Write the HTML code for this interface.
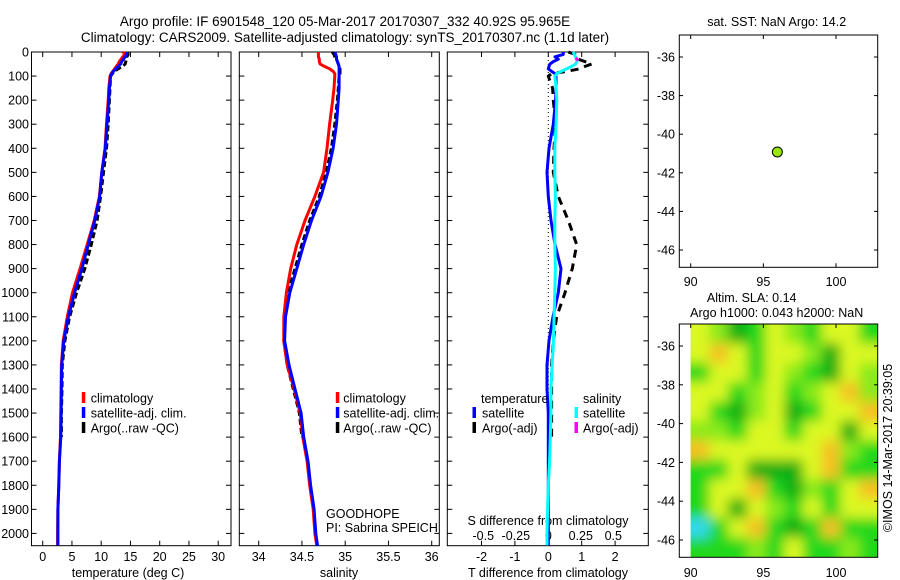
<!DOCTYPE html>
<html><head><meta charset="utf-8"><style>
html,body{margin:0;padding:0;background:#fff;}
svg{display:block;font-family:"Liberation Sans",sans-serif;}
text{font-size:12.5px;fill:#000;}
</style></head><body>
<svg id="chart" width="900" height="580" viewBox="0 0 900 580" xmlns="http://www.w3.org/2000/svg">
<defs>
<filter id="blur" x="-10%" y="-10%" width="120%" height="120%"><feGaussianBlur stdDeviation="6"/></filter>
<clipPath id="mapclip"><rect x="690.7" y="324" width="187" height="233.3"/></clipPath>
</defs>
<text x="345" y="26" text-anchor="middle" style="font-size:13.5px">Argo profile: IF 6901548_120 05-Mar-2017 20170307_332 40.92S 95.965E</text>
<text x="345" y="42" text-anchor="middle" style="font-size:13.5px">Climatology: CARS2009. Satellite-adjusted climatology: synTS_20170307.nc (1.1d later)</text>
<g id="g"></g>
</svg>
<script>
// ---- data ----
const depths      = [0,10,20,30,40,50,60,70,80,90,100,150,200,300,400,500,600,700,800,900,1000,1100,1200,1300,1400,1500,1600,1700,1800,1900,2000,2050];
const tempClim    = [13.8,14.0,13.7,13.4,13.1,12.9,12.6,12.3,12.0,11.7,11.5,11.3,11.2,10.9,10.65,10.1,9.7,8.8,7.6,6.4,5.1,4.2,3.5,3.2,3.15,3.1,3.05,2.85,2.75,2.6,2.55,2.55];
const tempSat     = [14.3,14.4,14.1,13.8,13.5,13.3,12.9,12.5,12.1,11.8,11.6,11.4,11.3,11.0,10.7,10.1,9.75,8.9,7.8,6.7,5.45,4.4,3.6,3.25,3.2,3.15,3.1,2.85,2.75,2.6,2.6,2.6];
const tempArgo    = [14.5,14.6,14.4,14.3,14.2,14.1,13.6,12.9,12.3,11.9,11.6,11.5,11.4,11.2,10.9,10.4,9.9,9.3,8.3,7.2,5.8,4.6,3.8,3.35,3.3,3.2,3.2];
const salClim     = [34.69,34.69,34.69,34.70,34.70,34.71,34.76,34.82,34.86,34.88,34.88,34.87,34.855,34.82,34.79,34.75,34.65,34.535,34.44,34.37,34.32,34.29,34.29,34.33,34.41,34.48,34.51,34.56,34.59,34.63,34.65,34.67];
const salSat      = [34.88,34.89,34.90,34.90,34.91,34.92,34.93,34.93,34.93,34.93,34.93,34.93,34.92,34.90,34.86,34.80,34.72,34.61,34.52,34.44,34.36,34.31,34.30,34.35,34.42,34.49,34.52,34.57,34.60,34.64,34.66,34.68];
const salArgo     = [34.85,34.87,34.88,34.90,34.91,34.92,34.93,34.94,34.94,34.94,34.93,34.92,34.91,34.88,34.84,34.78,34.70,34.59,34.50,34.42,34.34,34.30,34.29,34.33,34.40,34.47,34.50];
const dTempSat    = [0.45,0.45,0.2,0.3,0.15,0.05,0.02,0.0,0.1,0.2,0.23,0.23,0.22,0.15,0.02,-0.04,0.0,0.08,0.2,0.38,0.3,0.14,0.02,-0.04,-0.04,0.0,0.0,0.0,0.0,0.0,0.0,0.0];
const dSalSat     = [0.19,0.2,0.21,0.22,0.22,0.21,0.18,0.14,0.1,0.065,0.05,0.06,0.065,0.06,0.05,0.05,0.055,0.05,0.05,0.055,0.05,0.045,0.04,0.03,0.02,0.02,0.015,0.01,0.0,-0.005,-0.01,-0.01];
const dTempArgo   = [0.6,0.8,0.9,0.9,1.1,1.3,1.1,0.95,0.55,0.1,0.0,0.13,0.15,0.22,0.17,0.15,0.3,0.6,0.85,0.72,0.5,0.25,0.15,0.1,0.1,0.1,0.1];
const dSalArgoDepths = [25,35];
const dSalArgo    = [0.21,0.23];
// map
const floatLon = 95.965, floatLat = -40.92;
const slaGridLonStart = 90, slaGridLonStep = 1.287, slaGridLatStart = -34.87, slaGridLatStep = -1.0;
const slaGrid = [
 [3,2,0,1,3,2,1,3,3,1],
 [3,4,3,1,3,3,2,0,3,3],
 [1,3,3,1,3,2,1,0,3,2],
 [3,3,1,2,3,1,2,3,4,2],
 [3,1,0,2,3,0,1,3,3,4],
 [2,2,1,3,3,1,3,3,0,3],
 [4,3,3,3,3,3,3,4,2,1],
 [1,1,3,0,0,0,3,4,1,1],
 [1,3,3,4,1,0,2,1,3,4],
 [1,3,0,3,2,1,3,1,3,3],
 [-1,1,3,4,1,0,1,4,1,1],
 [1,1,1,2,1,3,1,1,2,1]
];
const tempTicks=[0,5,10,15,20,25,30], salTicks=[34,34.5,35,35.5,36], dTTicks=[-2,-1,0,1,2], dSTicks=[-0.5,-0.25,0,0.25,0.5];
const depthTicks=[0,100,200,300,400,500,600,700,800,900,1000,1100,1200,1300,1400,1500,1600,1700,1800,1900,2000];
const latTicks=[-36,-38,-40,-42,-44,-46], lonTicks=[90,95,100];

// ---- scales ----
const yD=d=>52+d*0.2407;
const xT=t=>42.7+t*5.85;
const xS=s=>258.7+(s-34)*86.5;
const xDT=v=>548.3+v*33.4;
const xDS=v=>548.3+v*130;
const mapX=lon=>690.7+(lon-90)*14.53;
const mapY1=lat=>57+(-36-lat)*19.3;
const mapY2=lat=>346+(-36-lat)*19.4;

const NS="http://www.w3.org/2000/svg";
const G=document.getElementById('g');
function el(tag,attrs,parent){const e=document.createElementNS(NS,tag);for(const k in attrs)e.setAttribute(k,attrs[k]);(parent||G).appendChild(e);return e;}
function txt(x,y,s,anchor,name,size){const t=el('text',{x:x,y:y,'text-anchor':anchor||'start'});t.textContent=s;


if(size)t.style.fontSize=size+'px';return t;}
function line(xs,ys,color,w,dash,name){let d='';for(let i=0;i<xs.length;i++)d+=(i?'L':'M')+xs[i].toFixed(1)+' '+ys[i].toFixed(1);
const p=el('path',{d:d,fill:'none',stroke:color,'stroke-width':w,'stroke-linejoin':'round'});if(dash)p.setAttribute('stroke-dasharray',dash);


return p;}
function frame(x0,y0,x1,y1,name){const r=el('rect',{x:x0,y:y0,width:x1-x0,height:y1-y0,fill:'none',stroke:'#000','stroke-width':1});

}
function tick(x1,y1,x2,y2){el('line',{x1:x1,y1:y1,x2:x2,y2:y2,stroke:'#000','stroke-width':1});}

const TOP=52,BOT=545.7;
const panels=[[31.5,231],[239.3,439.3],[447.3,648.3]];
panels.forEach((p,i)=>{
  frame(p[0],TOP,p[1],BOT,'profile-panel-'+(i+1));
  depthTicks.forEach(d=>{tick(p[0],yD(d),p[0]+5,yD(d));tick(p[1],yD(d),p[1]-5,yD(d));});
});
depthTicks.forEach(d=>txt(29,yD(d)+4.5,String(d),'end','depth-tick-label'));
tempTicks.forEach(t=>{tick(xT(t),TOP,xT(t),TOP+5);tick(xT(t),BOT,xT(t),BOT-5);txt(xT(t),561,String(t),'middle','temp-tick-label');});
salTicks.forEach(s=>{tick(xS(s),TOP,xS(s),TOP+5);tick(xS(s),BOT,xS(s),BOT-5);txt(xS(s),561,String(s),'middle','salinity-tick-label');});
dTTicks.forEach(v=>{tick(xDT(v),TOP,xDT(v),TOP+5);tick(xDT(v),BOT,xDT(v),BOT-5);txt(xDT(v),561,String(v),'middle','tdiff-tick-label');});
dSTicks.forEach(v=>txt(xDS(v),540,String(v),'middle','sdiff-tick-label'));
txt(128,577,'temperature (deg C)','middle','temperature-axis-title');
txt(339,577,'salinity','middle','salinity-axis-title');
txt(548,577,'T difference from climatology','middle','tdiff-axis-title');
txt(548,525,'S difference from climatology','middle','sdiff-axis-title');

const ysAll=depths.map(yD);
line(tempArgo.map(xT),depths.slice(0,tempArgo.length).map(yD),'#000',3,'6,3','temp-argo-line');
line(tempClim.map(xT),ysAll,'#f00',3,null,'temp-climatology-line');
line(tempSat.map(xT),ysAll,'#00f',3,null,'temp-satellite-line');
line(salArgo.map(xS),depths.slice(0,salArgo.length).map(yD),'#000',3,'6,3','salinity-argo-line');
line(salClim.map(xS),ysAll,'#f00',3,null,'salinity-climatology-line');
line(salSat.map(xS),ysAll,'#00f',3,null,'salinity-satellite-line');
const z=el('line',{x1:xDT(0),y1:TOP,x2:xDT(0),y2:BOT,stroke:'#000','stroke-width':1,'stroke-dasharray':'1,3'});


line(dTempArgo.map(xDT),depths.slice(0,dTempArgo.length).map(yD),'#000',3,'8,6','tdiff-argo-line');
line(dTempSat.map(xDT),ysAll,'#00f',3,null,'tdiff-satellite-line');
line(dSalSat.map(xDS),ysAll,'#0ff',3,null,'sdiff-satellite-line');
line(dSalArgo.map(xDS),dSalArgoDepths.map(yD),'#f0f',3,null,'sdiff-argo-line');

function legendEntry(bx,tx,y,color,label,name){const r=el('rect',{x:bx-1.5,y:y-6,width:3.5,height:11,fill:color});


txt(tx,y+4.5,label,'start',name);}
[[83.3,90.7],[337.3,343.3]].forEach((p,i)=>{
  legendEntry(p[0],p[1],398,'#f00','climatology','legend-climatology-'+(i+1));
  legendEntry(p[0],p[1],413,'#00f','satellite-adj. clim.','legend-satellite-'+(i+1));
  legendEntry(p[0],p[1],428,'#000','Argo(..raw -QC)','legend-argo-'+(i+1));
});
txt(481,403,'temperature','start','legend-temperature-header');
txt(583,403,'salinity','start','legend-salinity-header');
legendEntry(474,482,413,'#00f','satellite','legend-tdiff-satellite');
legendEntry(474,482,428,'#000','Argo(-adj)','legend-tdiff-argo');
legendEntry(576,583,413,'#0ff','satellite','legend-sdiff-satellite');
legendEntry(576,583,428,'#f0f','Argo(-adj)','legend-sdiff-argo');
txt(326,518,'GOODHOPE','start','project-label');
txt(326,532,'PI: Sabrina SPEICH','start','pi-label');

txt(776.7,26,'sat. SST: NaN Argo: 14.2','middle','sst-map-title');
frame(679.3,35,877.7,267.3,'sst-map-panel');
latTicks.forEach(l=>{tick(679.3,mapY1(l),683,mapY1(l));tick(877.7,mapY1(l),874,mapY1(l));txt(675,mapY1(l)+4.5,String(l),'end','sst-lat-label');});
lonTicks.forEach(l=>{tick(mapX(l),35,mapX(l),39);tick(mapX(l),267.3,mapX(l),263.3);txt(mapX(l),286,String(l),'middle','sst-lon-label');});
const dot=el('circle',{cx:mapX(floatLon),cy:mapY1(floatLat),r:5,fill:'#9be600',stroke:'#000','stroke-width':1});



txt(751.7,302,'Altim. SLA: 0.14','middle','sla-map-title-1');
txt(776.7,317,'Argo h1000: 0.043 h2000: NaN','middle','sla-map-title-2');
const colors={'-1':'#30d8f0','0':'#0cae18','1':'#22d81e','2':'#8aea1e','3':'#dcf820','4':'#f6c020'};
const cg=el('g',{'clip-path':'url(#mapclip)'});
const base=el('rect',{x:690.7,y:324,width:187,height:233.3,fill:'#5ee220'},cg);
const hg=el('g',{filter:'url(#blur)'},cg);


slaGrid.forEach((row,ri)=>row.forEach((v,ci)=>{
  const x0=mapX(slaGridLonStart+ci*slaGridLonStep), x1=mapX(slaGridLonStart+(ci+1)*slaGridLonStep);
  const y0=mapY2(slaGridLatStart+ri*slaGridLatStep), y1=mapY2(slaGridLatStart+(ri+1)*slaGridLatStep);
  const pad=(ri==0||ri==slaGrid.length-1||ci==0||ci==row.length-1)?12:0;
  const r=el('rect',{x:x0-(ci==0?pad:0),y:y0-(ri==0?pad:0),width:x1-x0+(ci==0||ci==row.length-1?pad:0)+0.5,height:y1-y0+(ri==0||ri==slaGrid.length-1?pad:0)+0.5,fill:colors[String(v)]},hg);
  
  
}));
frame(679.3,324,877.7,557.3,'sla-map-panel');
latTicks.forEach(l=>{tick(679.3,mapY2(l),683,mapY2(l));tick(877.7,mapY2(l),874,mapY2(l));txt(675,mapY2(l)+4.5,String(l),'end','sla-lat-label');});
lonTicks.forEach(l=>{tick(mapX(l),324,mapX(l),328);txt(mapX(l),577,String(l),'middle','sla-lon-label');});
const cr=txt(0,0,'©IMOS 14-Mar-2017 20:39:05','middle','imos-credit');
cr.setAttribute('transform','translate(892,448) rotate(-90)');
</script>
</body></html>
